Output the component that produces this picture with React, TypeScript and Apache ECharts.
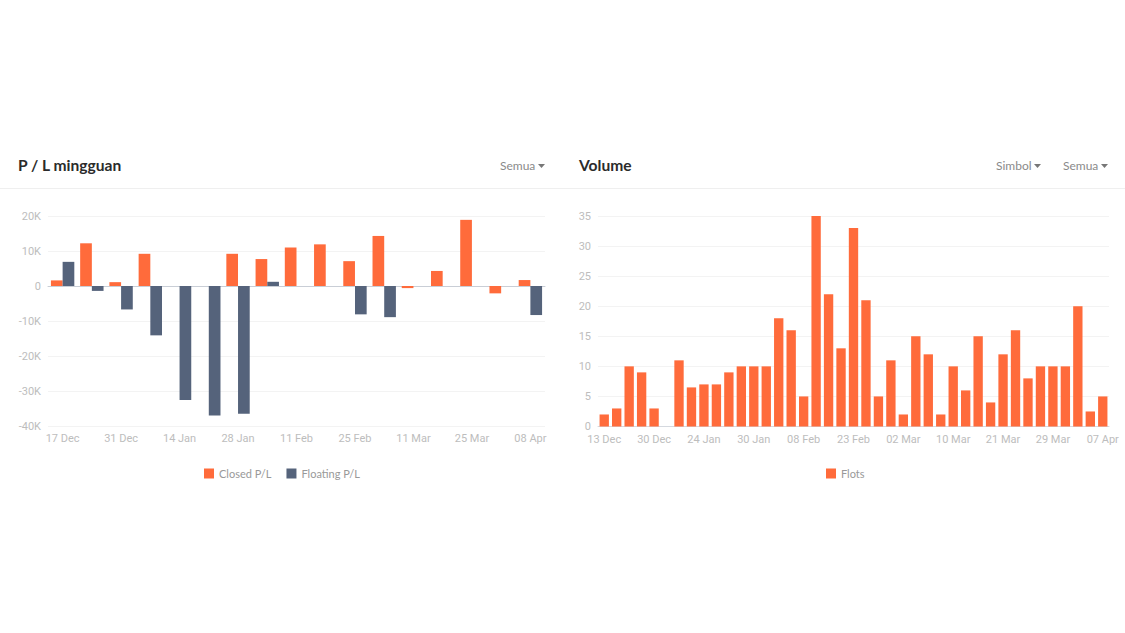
import React, { useEffect, useRef } from "react";
import * as echarts from "echarts";

const weeks = ["17 Dec", "24 Dec", "31 Dec", "07 Jan", "14 Jan", "21 Jan", "28 Jan", "04 Feb", "11 Feb", "18 Feb", "25 Feb", "04 Mar", "11 Mar", "18 Mar", "25 Mar", "01 Apr", "08 Apr"];
const closedPL = [1600, 12200, 1100, 9200, 0, 0, 9200, 7700, 11000, 11900, 7100, 14300, -600, 4300, 18900, -2100, 1700];
const floatingPL = [6900, -1400, -6700, -14100, -32600, -37000, -36500, 1200, 0, 0, -8100, -8900, 0, 0, 0, 0, -8300];

const days = [
  "13 Dec", "16 Dec", "19 Dec", "23 Dec", "30 Dec", "06 Jan", "13 Jan", "20 Jan",
  "24 Jan", "25 Jan", "26 Jan", "29 Jan", "30 Jan", "31 Jan", "01 Feb", "05 Feb",
  "08 Feb", "12 Feb", "15 Feb", "19 Feb", "23 Feb", "26 Feb", "27 Feb", "01 Mar",
  "02 Mar", "03 Mar", "05 Mar", "08 Mar", "10 Mar", "13 Mar", "15 Mar", "18 Mar",
  "21 Mar", "22 Mar", "25 Mar", "27 Mar", "29 Mar", "01 Apr", "03 Apr", "05 Apr", "07 Apr",
];
const flots = [2, 3, 10, 9, 3, 0, 11, 6.5, 7, 7, 9, 10, 10, 10, 18, 16, 5, 35, 22, 13, 33, 21, 5, 11, 2, 15, 12, 2, 10, 6, 15, 4, 12, 16, 8, 10, 10, 10, 20, 2.5, 5];

const plTicks = { min: -40000, max: 20000, interval: 10000 };
const volTicks = { min: 0, max: 35, interval: 5 };

const ORANGE = "#FF6B3B";
const NAVY = "#55637B";
const LABEL = "#BDBDBD";
const FONT = "Lato, 'Open Sans', sans-serif";

function dropdown(label: string, x: number) {
  return {
    type: "text",
    left: x,
    top: 159,
    style: { text: label, fill: "#8a8a8a", font: `12px ${FONT}` },
  };
}

export default function App() {
  const ref = useRef<HTMLDivElement>(null);
  useEffect(() => {
    if (!ref.current) return;
    const chart = echarts.init(ref.current, undefined, { renderer: "svg" });
    const axisLabel = { color: LABEL, fontSize: 11, fontFamily: "Roboto, sans-serif" };
    const tri = (x: number) => ({
      type: "polygon",
      shape: { points: [[x, 164], [x + 7, 164], [x + 3.5, 168]] },
      style: { fill: "#777" },
    });
    const legendText = { color: "#999", fontSize: 11, fontFamily: FONT };
    chart.setOption({
      animation: false,
      textStyle: { fontFamily: FONT },
      grid: [
        { left: 48, top: 216, width: 497, height: 210 },
        { left: 598, top: 216, width: 511, height: 210.5 },
      ],
      legend: [
        {
          left: 199,
          top: 463,
          itemWidth: 10,
          itemHeight: 10,
          itemGap: 15,
          icon: "rect",
          textStyle: legendText,
          data: ["Closed P/L", "Floating P/L"],
        },
        {
          left: 821,
          top: 463,
          itemWidth: 10,
          itemHeight: 10,
          icon: "rect",
          textStyle: legendText,
          data: ["Flots"],
        },
      ],
      xAxis: [
        {
          type: "category",
          gridIndex: 0,
          data: weeks,
          axisTick: { show: false },
          axisLine: { onZero: true, lineStyle: { color: "#C9CED6" } },
          axisLabel: { ...axisLabel, interval: 1, margin: 7 },
        },
        {
          type: "category",
          gridIndex: 1,
          data: days,
          axisTick: { show: false },
          axisLine: { lineStyle: { color: "#D5D9DF" } },
          axisLabel: { ...axisLabel, interval: 3, margin: 7 },
        },
      ],
      yAxis: [
        {
          type: "value",
          gridIndex: 0,
          ...plTicks,
          axisLine: { show: false },
          axisTick: { show: false },
          splitLine: { lineStyle: { color: "#F3F3F3" } },
          axisLabel: {
            ...axisLabel,
            margin: 7,
            formatter: (v: number) => (v === 0 ? "0" : `${v / 1000}K`),
          },
        },
        {
          type: "value",
          gridIndex: 1,
          ...volTicks,
          axisLine: { show: false },
          axisTick: { show: false },
          splitLine: { lineStyle: { color: "#F3F3F3" } },
          axisLabel: { ...axisLabel, margin: 7 },
        },
      ],
      series: [
        {
          name: "Closed P/L",
          type: "bar",
          xAxisIndex: 0,
          yAxisIndex: 0,
          data: closedPL,
          barGap: "0%",
          barCategoryGap: "20%",
          itemStyle: { color: ORANGE },
        },
        {
          name: "Floating P/L",
          type: "bar",
          xAxisIndex: 0,
          yAxisIndex: 0,
          data: floatingPL,
          barGap: "0%",
          barCategoryGap: "20%",
          itemStyle: { color: NAVY },
        },
        {
          name: "Flots",
          type: "bar",
          xAxisIndex: 1,
          yAxisIndex: 1,
          data: flots,
          barCategoryGap: "25%",
          itemStyle: { color: ORANGE },
        },
      ],
      graphic: [
        {
          type: "text",
          left: 18,
          top: 157,
          style: { text: "P / L mingguan", fill: "#2b2b2b", font: `bold 15.6px ${FONT}` },
        },
        {
          type: "text",
          left: 579,
          top: 157,
          style: { text: "Volume", fill: "#2b2b2b", font: `bold 15.6px ${FONT}` },
        },
        dropdown("Semua", 500),
        tri(538),
        dropdown("Simbol", 996),
        tri(1034),
        dropdown("Semua", 1063),
        tri(1101),
        {
          type: "line",
          shape: { x1: 0, y1: 188.5, x2: 1125, y2: 188.5 },
          style: { stroke: "#EFEFEF", lineWidth: 1 },
        },
      ],
    });
    return () => chart.dispose();
  }, []);
  return (
    <div
      ref={ref}
      style={{ position: "fixed", left: 0, top: 0, width: 1125, height: 633, background: "#fff" }}
    />
  );
}
